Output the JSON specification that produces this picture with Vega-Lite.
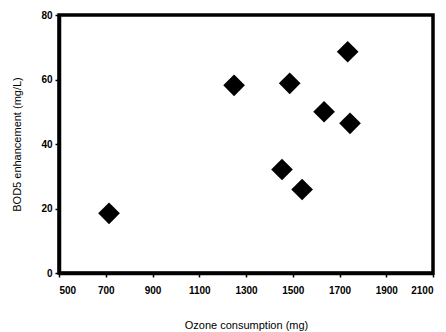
{
  "$schema": "https://vega.github.io/schema/vega-lite/v6.json",
  "width": 374,
  "height": 258,
  "autosize": "none",
  "padding": {"left": 59, "top": 15, "right": 13, "bottom": 59},
  "background": "white",
  "view": {"stroke": "black", "strokeWidth": 3.5},
  "config": {
    "axis": {
      "grid": false,
      "domainColor": "black",
      "domainWidth": 3.5,
      "tickColor": "black",
      "tickWidth": 1.5,
      "tickSize": 4,
      "labelFont": "Liberation Sans",
      "labelFontSize": 10,
      "labelFontWeight": "bold",
      "labelColor": "black",
      "titleFont": "Liberation Sans",
      "titleFontSize": 11,
      "titleFontWeight": "normal",
      "titleColor": "black"
    }
  },
  "data": {
    "values": [
      {"ozone": 714, "bod5": 18.5},
      {"ozone": 1249, "bod5": 58.2},
      {"ozone": 1487, "bod5": 58.8},
      {"ozone": 1735, "bod5": 68.6},
      {"ozone": 1634, "bod5": 50.0},
      {"ozone": 1745, "bod5": 46.4},
      {"ozone": 1454, "bod5": 32.1},
      {"ozone": 1540, "bod5": 25.9}
    ]
  },
  "mark": {"type": "point", "shape": "diamond", "filled": true, "color": "black", "opacity": 1, "size": 470},
  "encoding": {
    "x": {
      "field": "ozone",
      "type": "quantitative",
      "scale": {"domain": [500, 2100], "nice": false, "zero": false},
      "axis": {"values": [500, 700, 900, 1100, 1300, 1500, 1700, 1900, 2100], "format": "d", "title": "Ozone consumption (mg)", "labelPadding": 8, "titlePadding": 24, "domainWidth": 3.5}
    },
    "y": {
      "field": "bod5",
      "type": "quantitative",
      "scale": {"domain": [0, 80], "nice": false},
      "axis": {"values": [0, 20, 40, 60, 80], "format": "d", "title": "BOD5 enhancement (mg/L)", "labelPadding": 3, "titlePadding": 18, "domainWidth": 3.5}
    }
  }
}
